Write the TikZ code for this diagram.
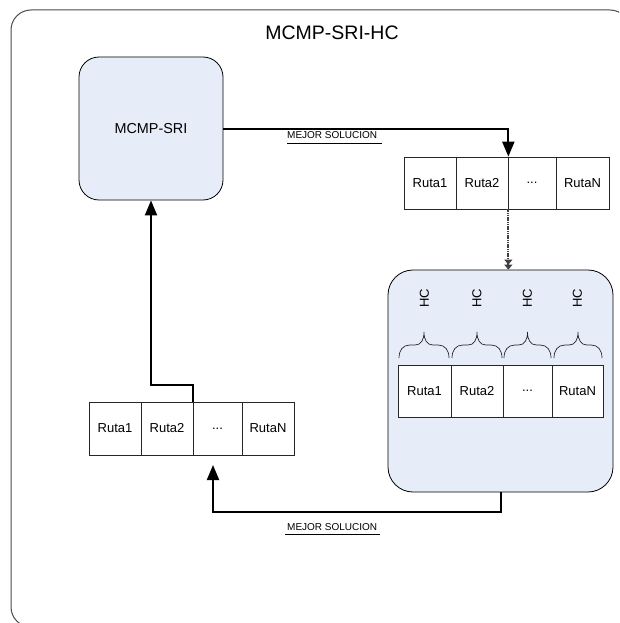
\documentclass[tikz,border=0pt]{standalone}
\usepackage{fontspec}
\setmainfont{Liberation Sans}
\usetikzlibrary{arrows.meta}
\definecolor{boxblue}{HTML}{E7EDF8}
\begin{document}
\begin{tikzpicture}[x=1pt,y=-1pt,
  frame/.style={draw=black!70, line width=1pt, rounded corners=20pt},
  bluebox/.style={draw=black, line width=0.8pt, fill=boxblue, inner sep=0pt},
  cell/.style={draw=black!85, line width=0.7pt, fill=white, minimum height=52pt, inner sep=0pt, font=\fontsize{13}{15}\selectfont},
  conn/.style={line width=2pt, -{Triangle[length=15pt,width=12pt]}},
  dotconn/.style={line width=2pt, black!75, dash pattern=on 1.2pt off 0.6pt, -{Triangle[length=5pt,width=8pt]Triangle[length=5pt,width=8pt]}},
  lab/.style={inner sep=0pt, font=\fontsize{10}{12}\selectfont},
  hclab/.style={rotate=90, inner sep=0pt, font=\fontsize{13}{15}\selectfont},
  bracepath/.style={line width=0.7pt, black!85}
]
\useasboundingbox (0,0) rectangle (619,623);
\clip (0,0) rectangle (619,623);
\fill[white] (0,0) rectangle (619,623);

% outer frame
\draw[frame] (11,10) rectangle (630,627);
\node[inner sep=0pt, font=\fontsize{19.5}{22}\selectfont] (title) at (332,33) {MCMP-SRI-HC};

% MCMP-SRI box
\node[bluebox, rounded corners=20pt, minimum width=144pt, minimum height=143pt,
      font=\fontsize{14.4}{16}\selectfont] (sri) at (151,128.5) {MCMP-SRI};

% right row
\node[cell, minimum width=52pt] (rr1) at (430,183) {Ruta1};
\node[cell, minimum width=52pt] (rr2) at (482,183) {Ruta2};
\node[cell, minimum width=48pt] (rr3) at (532,183) {...};
\node[cell, minimum width=53pt] (rr4) at (582.5,183) {RutaN};

% HC box
\node[bluebox, rounded corners=25pt, minimum width=225pt, minimum height=222pt] (hc) at (500.5,381) {};
\node[cell, minimum width=53pt] (hr1) at (424.5,391) {Ruta1};
\node[cell, minimum width=52pt] (hr2) at (477,391) {Ruta2};
\node[cell, minimum width=49pt] (hr3) at (527.5,391) {...};
\node[cell, minimum width=51pt] (hr4) at (577.5,391) {RutaN};
\node[hclab] (hc1) at (424.5,298) {HC};
\node[hclab] (hc2) at (477,298) {HC};
\node[hclab] (hc3) at (527.5,298) {HC};
\node[hclab] (hc4) at (577.5,298) {HC};

% braces
\foreach \a/\b in {399/449, 452/502, 504/551, 554/602} {
  \pgfmathsetmacro\m{(\a+\b)/2}
  \draw[bracepath] (\a,358) .. controls (\a,350) and (\a+4,345) .. (\a+11,345)
     -- (\m-9,345) .. controls (\m-3,345) and (\m,340) .. (\m,332)
     .. controls (\m,340) and (\m+3,345) .. (\m+9,345)
     -- (\b-11,345) .. controls (\b-4,345) and (\b,350) .. (\b,358);
}

% left row
\node[cell, minimum width=52pt, minimum height=53pt] (lr1) at (115,428.5) {Ruta1};
\node[cell, minimum width=52pt, minimum height=53pt] (lr2) at (167,428.5) {Ruta2};
\node[cell, minimum width=49pt, minimum height=53pt] (lr3) at (217.5,428.5) {...};
\node[cell, minimum width=52pt, minimum height=53pt] (lr4) at (268,428.5) {RutaN};

% connectors
\draw[conn] (sri.east) -| (rr2.north east);
\draw[dotconn] (rr2.south east) -- (rr2.south east |- hc.north);
\coordinate (bend) at (213,512);
\coordinate (tip) at (213,465);
\draw[conn] (hc.south) |- (bend) -- (tip);
\draw[conn] (lr2.north east) -- ++(0,-17) -| (sri.south);

% labels
\node[lab, anchor=base west] (l1) at (287,139) {MEJOR SOLUCION};
\draw[line width=0.7pt] (l1.base west) ++(0,4) -- ++(95,0);
\node[lab, anchor=base west] (l2) at (287,530) {MEJOR SOLUCION};
\draw[line width=0.7pt] (l2.base west) ++(-2,4) -- ++(95,0);
\end{tikzpicture}
\end{document}
